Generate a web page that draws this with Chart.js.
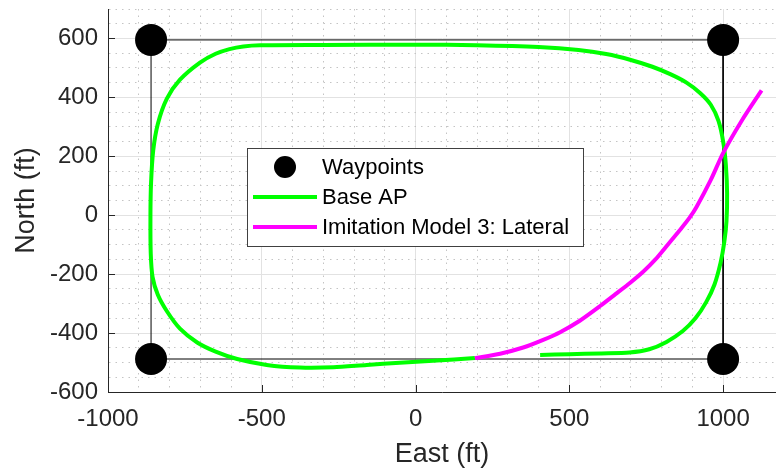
<!DOCTYPE html>
<html>
<head>
<meta charset="utf-8">
<script src="https://cdn.jsdelivr.net/npm/chart.js@4"></script>
<style>
  html, body { margin: 0; padding: 0; background: #fff; }
  #wrap { width: 776px; height: 472px; }
</style>
</head>
<body>
<div id="wrap"><canvas id="trackChart" width="776" height="472"></canvas></div>
<script>
// waypoints (ft)
const waypointEast = [-860, 1000, 1000, -860];
const waypointNorth = [595, 595, -488, -488];

// Base AP trajectory
const baseEast = [405, 500, 600, 696, 760, 816, 869, 910, 945, 972, 992, 1004, 1011, 1013, 1009, 1001, 985, 960, 925, 881, 830, 770, 700, 620, 530, 400, 200, 0, -300, -505, -560, -605, -650, -701, -766, -809, -838, -853, -860, -862, -861, -855, -838, -809, -766, -710, -650, -580, -484, -376, -267, -159, -51, 57, 193];
const baseNorth = [-474, -472, -469, -466, -455, -430, -393, -350, -295, -235, -160, -90, -20, 74, 170, 245, 320, 375, 415, 450, 478, 504, 527, 547, 561, 571, 577, 579, 578, 577, 573, 564, 548, 518, 460, 395, 310, 220, 110, 0, -130, -210, -270, -325, -385, -432, -463, -488, -508, -517, -516, -508, -501, -494, -485];

// Imitation Model 3: Lateral trajectory
const imitEast = [193, 275, 350, 415, 470, 534, 599, 650, 697, 740, 780, 820, 859, 890, 914, 960, 1000, 1060, 1125];
const imitNorth = [-485, -470, -449, -423, -397, -358, -309, -268, -230, -192, -150, -100, -51, -10, 29, 120, 211, 320, 424];

const xMajorTicks = [-1000, -500, 0, 500, 1000];
const yMajorTicks = [-600, -400, -200, 0, 200, 400, 600];

const FONT = "'Liberation Sans', Arial, Helvetica, sans-serif";
const AXIS_COLOR = '#262626';

function toPoints(xs, ys) {
  return xs.map((x, i) => ({ x: x, y: ys[i] }));
}

const wpPoints = toPoints(waypointEast, waypointNorth);

// no extra padding for edge labels, the box fills the figure
function noPad(scale) {
  scale.paddingTop = 0;
  scale.paddingBottom = 0;
  scale.paddingLeft = 0;
  scale.paddingRight = 0;
}

// inside tick marks like the MATLAB axes
const tickMarks = {
  id: 'tickMarks',
  afterDraw(chart) {
    const { ctx, chartArea, scales } = chart;
    ctx.save();
    ctx.strokeStyle = AXIS_COLOR;
    ctx.lineWidth = 1;
    ctx.beginPath();
    xMajorTicks.forEach(v => {
      const px = Math.round(scales.x.getPixelForValue(v)) + 0.5;
      ctx.moveTo(px, chartArea.bottom);
      ctx.lineTo(px, chartArea.bottom - 7);
    });
    yMajorTicks.forEach(v => {
      const py = Math.round(scales.y.getPixelForValue(v)) + 0.5;
      ctx.moveTo(chartArea.left, py);
      ctx.lineTo(chartArea.left + 7, py);
    });
    ctx.stroke();
    ctx.restore();
  }
};

// boxed legend inside the plot
const boxLegend = {
  id: 'boxLegend',
  afterDraw(chart) {
    const ctx = chart.ctx;
    const items = chart.data.datasets.filter(d => d.label);
    const left = 247, top = 148, w = 336, rowH = 30;
    const h = items.length * rowH + 8;
    ctx.save();
    ctx.fillStyle = '#fff';
    ctx.fillRect(left, top, w, h);
    ctx.strokeStyle = '#404040';
    ctx.lineWidth = 1;
    ctx.strokeRect(left + 0.5, top + 0.5, w, h);
    ctx.font = '22px ' + FONT;
    ctx.textBaseline = 'middle';
    items.forEach((d, i) => {
      const cy = top + 19 + i * rowH;
      if (d.showLine === false) {
        ctx.fillStyle = d.backgroundColor;
        ctx.beginPath();
        ctx.arc(285, cy, 11, 0, Math.PI * 2);
        ctx.fill();
      } else {
        ctx.strokeStyle = d.borderColor;
        ctx.lineWidth = 4;
        ctx.beginPath();
        ctx.moveTo(253, cy);
        ctx.lineTo(317, cy);
        ctx.stroke();
      }
      ctx.fillStyle = '#000';
      ctx.fillText(d.label, 322, cy + 1);
    });
    ctx.restore();
  }
};

new Chart(document.getElementById('trackChart'), {
  type: 'scatter',
  data: {
    datasets: [
      {
        label: 'Waypoints',
        data: wpPoints,
        showLine: false,
        pointRadius: 16,
        pointHoverRadius: 16,
        backgroundColor: '#000',
        borderColor: '#000',
        borderWidth: 0,
        order: 0
      },
      {
        label: 'Base AP',
        data: toPoints(baseEast, baseNorth),
        showLine: true,
        borderColor: '#00ff00',
        backgroundColor: '#00ff00',
        borderWidth: 4,
        pointRadius: 0,
        tension: 0.25,
        order: 2
      },
      {
        label: 'Imitation Model 3: Lateral',
        data: toPoints(imitEast, imitNorth),
        showLine: true,
        borderColor: '#ff00ff',
        backgroundColor: '#ff00ff',
        borderWidth: 4,
        pointRadius: 0,
        tension: 0.25,
        order: 1
      },
      {
        label: '',
        data: wpPoints.concat([wpPoints[0]]),
        showLine: true,
        borderColor: '#000',
        borderWidth: 1,
        pointRadius: 0,
        tension: 0,
        order: 3
      }
    ]
  },
  options: {
    responsive: false,
    animation: false,
    devicePixelRatio: 1,
    layout: { autoPadding: false, padding: { top: 9, right: 0, left: 0, bottom: 0 } },
    plugins: {
      legend: { display: false },
      tooltip: { enabled: false }
    },
    scales: {
      x: {
        type: 'linear',
        min: -1000,
        max: 1172,
        afterBuildTicks(scale) {
          scale.ticks = scale.ticks.filter(t => t.value % 100 === 0 && t.value <= 1100);
        },
        afterFit(scale) { scale.height = 80; noPad(scale); },
        ticks: {
          stepSize: 100,
          autoSkip: false,
          maxRotation: 0,
          padding: 13,
          color: AXIS_COLOR,
          font: { family: FONT, size: 24 },
          callback: v => xMajorTicks.includes(v) ? String(v) : ''
        },
        grid: {
          drawTicks: false,
          color: ctx => xMajorTicks.includes(ctx.tick.value) ? '#e2e2e2' : '#c4c4c4',
          lineWidth: 1
        },
        border: {
          color: AXIS_COLOR,
          width: 1,
          dash: ctx => (ctx.tick && !xMajorTicks.includes(ctx.tick.value)) ? [1.5, 5] : []
        },
        title: {
          display: true,
          text: 'East (ft)',
          color: AXIS_COLOR,
          font: { family: FONT, size: 27 },
          padding: { top: 0, bottom: 1 }
        }
      },
      y: {
        type: 'linear',
        min: -600,
        max: 700,
        afterBuildTicks(scale) {
          scale.ticks = scale.ticks.filter(t => t.value % 50 === 0);
        },
        afterFit(scale) { scale.width = 108; noPad(scale); },
        ticks: {
          stepSize: 50,
          autoSkip: false,
          padding: 10,
          color: AXIS_COLOR,
          font: { family: FONT, size: 24 },
          callback: v => yMajorTicks.includes(v) ? String(v) : ''
        },
        grid: {
          drawTicks: false,
          color: ctx => yMajorTicks.includes(ctx.tick.value) ? '#e2e2e2' : '#c4c4c4',
          lineWidth: 1
        },
        border: {
          color: AXIS_COLOR,
          width: 1,
          dash: ctx => (ctx.tick && !yMajorTicks.includes(ctx.tick.value)) ? [1.5, 5] : []
        },
        title: {
          display: true,
          text: 'North (ft)',
          color: AXIS_COLOR,
          font: { family: FONT, size: 27 },
          padding: { top: 10, bottom: 0 }
        }
      }
    }
  },
  plugins: [tickMarks, boxLegend]
});
</script>
</body>
</html>
